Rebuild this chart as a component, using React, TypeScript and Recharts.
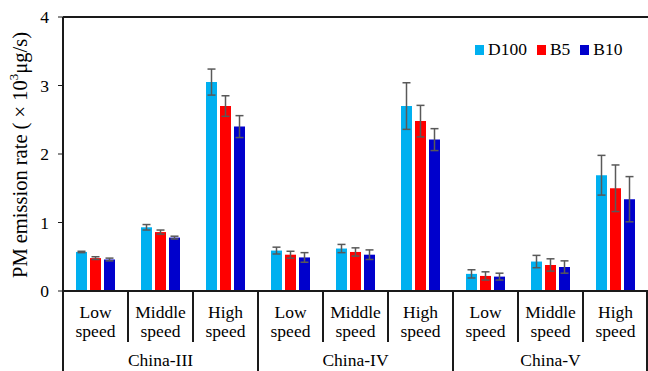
import React from "react";
import {
  BarChart,
  Bar,
  XAxis,
  YAxis,
  ErrorBar,
  Legend,
  ReferenceLine,
} from "recharts";

const speeds = [
  "Low speed", "Middle speed", "High speed",
  "Low speed", "Middle speed", "High speed",
  "Low speed", "Middle speed", "High speed",
];
const groups = [
  "China-III", "China-III", "China-III",
  "China-IV", "China-IV", "China-IV",
  "China-V", "China-V", "China-V",
];

const d100 = [0.57, 0.93, 3.05, 0.59, 0.62, 2.7, 0.25, 0.43, 1.69];
const d100Err = [0.01, 0.04, 0.19, 0.05, 0.06, 0.34, 0.06, 0.09, 0.29];
const b5 = [0.48, 0.86, 2.7, 0.53, 0.57, 2.48, 0.22, 0.38, 1.5];
const b5Err = [0.02, 0.03, 0.15, 0.05, 0.06, 0.23, 0.06, 0.09, 0.34];
const b10 = [0.46, 0.78, 2.4, 0.49, 0.53, 2.21, 0.21, 0.35, 1.34];
const b10Err = [0.02, 0.02, 0.16, 0.07, 0.07, 0.16, 0.05, 0.09, 0.33];

const seriesNames = ["D100", "B5", "B10"];
const yTicks = [0, 1, 2, 3, 4];

const FONT = '"Liberation Serif", "Times New Roman", serif';
const W = 648;
const H = 371;
const Y_AXIS_W = 63;
const BAND = (W - Y_AXIS_W) / speeds.length;

const data = speeds.map((s, i) => ({
  speed: s,
  group: groups[i],
  d100: d100[i],
  d100Err: d100Err[i],
  b5: b5[i],
  b5Err: b5Err[i],
  b10: b10[i],
  b10Err: b10Err[i],
}));

const SpeedTick = (props: any) => {
  const { x, y, payload, index } = props;
  const [l1, l2] = String(payload.value).split(" ");
  const left = x - BAND / 2;
  return (
    <g>
      <line x1={left} y1={y} x2={left} y2={y + 51} stroke="#1a1a1a" strokeWidth={2} />
      {index === speeds.length - 1 && (
        <line x1={x + BAND / 2 - 1} y1={y} x2={x + BAND / 2 - 1} y2={y + 51} stroke="#1a1a1a" strokeWidth={2} />
      )}
      <text x={x} y={y + 27} textAnchor="middle" fontFamily={FONT} fontSize={17.5} fill="#000">
        {l1}
      </text>
      <text x={x} y={y + 46} textAnchor="middle" fontFamily={FONT} fontSize={17.5} fill="#000">
        {l2}
      </text>
    </g>
  );
};

const GroupTick = (props: any) => {
  const { x, y, payload, index } = props;
  const left = x - BAND / 2;
  return (
    <g>
      {index % 3 === 0 && (
        <line x1={left} y1={y - 2} x2={left} y2={y + 30} stroke="#1a1a1a" strokeWidth={2} />
      )}
      {index === speeds.length - 1 && (
        <line x1={x + BAND / 2 - 1} y1={y - 2} x2={x + BAND / 2 - 1} y2={y + 30} stroke="#1a1a1a" strokeWidth={2} />
      )}
      {index % 3 === 1 && (
        <text x={x} y={y + 23} textAnchor="middle" fontFamily={FONT} fontSize={17.5} fill="#000">
          {payload.value}
        </text>
      )}
    </g>
  );
};

const YLabel = (props: any) => {
  const { viewBox } = props;
  const cx = 20;
  const cy = viewBox.y + viewBox.height / 2 + 1;
  return (
    <text
      x={cx}
      y={cy}
      transform={`rotate(-90, ${cx}, ${cy})`}
      textAnchor="middle"
      dominantBaseline="central"
      fontFamily={FONT}
      fontSize={20.5}
      fill="#000"
    >
      PM emission rate ( × 10<tspan dy={-7} fontSize={13}>3</tspan><tspan dy={7}>μg/s)</tspan>
    </text>
  );
};

const LegendContent = (props: any) => {
  const items = [...(props.payload || [])].sort(
    (a: any, b: any) => seriesNames.indexOf(a.value) - seriesNames.indexOf(b.value)
  );
  return (
    <div style={{ display: "flex", alignItems: "center", fontFamily: FONT, fontSize: 17.5, color: "#000" }}>
      {items.map((it: any, i: number) => (
        <div key={it.value} style={{ display: "flex", alignItems: "center", marginLeft: i === 0 ? 0 : 10 }}>
          <span style={{ display: "inline-block", width: 9, height: 10, background: it.color, marginRight: 4 }} />
          <span>{it.value}</span>
        </div>
      ))}
    </div>
  );
};

export default function App() {
  return (
    <div style={{ position: "absolute", left: 0, top: 0, background: "#fff" }}>
      <BarChart
        width={W}
        height={H}
        data={data}
        margin={{ top: 17, right: 0, bottom: 0, left: 0 }}
        barCategoryGap="20%"
        barGap={3}
      >
        <YAxis
          width={Y_AXIS_W}
          domain={[0, 4]}
          ticks={yTicks}
          interval={0}
          tickSize={5}
          tickMargin={9}
          axisLine={{ stroke: "#1a1a1a", strokeWidth: 2 }}
          tickLine={{ stroke: "#1a1a1a", strokeWidth: 1 }}
          tick={{ fontFamily: FONT, fontSize: 17.5, fill: "#000" }}
          label={<YLabel />}
        />
        <XAxis
          dataKey="speed"
          interval={0}
          height={52}
          tickSize={0}
          tickMargin={0}
          tickLine={false}
          axisLine={{ stroke: "#1a1a1a", strokeWidth: 2 }}
          tick={<SpeedTick />}
        />
        <XAxis
          xAxisId="grp"
          dataKey="group"
          interval={0}
          height={28}
          tickSize={0}
          tickMargin={0}
          tickLine={false}
          axisLine={false}
          tick={<GroupTick />}
        />
        <ReferenceLine y={4} stroke="#1a1a1a" strokeWidth={2} />
        <Legend
          layout="horizontal"
          verticalAlign="middle"
          align="center"
          content={<LegendContent />}
          wrapperStyle={{ top: 39, left: 475, width: "auto" }}
        />
        <Bar dataKey="d100" name="D100" fill="#00B0F0" isAnimationActive={false}>
          <ErrorBar dataKey="d100Err" width={4} stroke="#595959" strokeWidth={1.5} />
        </Bar>
        <Bar dataKey="b5" name="B5" fill="#FF0000" isAnimationActive={false}>
          <ErrorBar dataKey="b5Err" width={4} stroke="#595959" strokeWidth={1.5} />
        </Bar>
        <Bar dataKey="b10" name="B10" fill="#0000CC" isAnimationActive={false}>
          <ErrorBar dataKey="b10Err" width={4} stroke="#595959" strokeWidth={1.5} />
        </Bar>
      </BarChart>
    </div>
  );
}
